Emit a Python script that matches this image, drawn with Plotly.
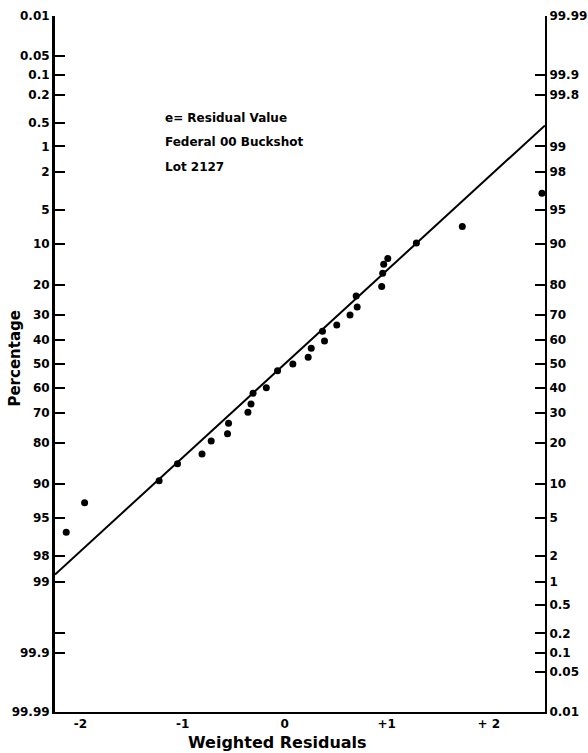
from statistics import NormalDist
import plotly.graph_objects as go

# Weighted residuals and their cumulative percentage (left-hand scale)
resid = [-2.14, -1.96, -1.23, -1.05, -0.81, -0.72, -0.56, -0.55, -0.36, -0.33,
         -0.31, -0.18, -0.07, 0.08, 0.23, 0.26, 0.39, 0.37, 0.51, 0.64,
         0.71, 0.70, 0.95, 0.96, 0.97, 1.01, 1.29, 1.74, 2.52]
pct = [96.4, 93.1, 89.4, 85.7, 83.2, 79.5, 77.2, 73.7, 69.7, 66.5,
       62.3, 60.0, 52.9, 50.0, 47.1, 43.3, 40.3, 36.3, 33.8, 30.0,
       27.1, 23.4, 20.4, 16.6, 14.3, 13.0, 9.8, 7.1, 3.4]

# Reference line: standard normal (percentage = 100 * Phi(-x))
line_resid = [-2.25, 2.55]

left_ticks = [0.01, 0.05, 0.1, 0.2, 0.5, 1, 2, 5, 10, 20, 30, 40, 50, 60, 70,
              80, 90, 95, 98, 99, 99.8, 99.9, 99.99]
left_text = ["0.01", "0.05", "0.1", "0.2", "0.5", "1", "2", "5", "10", "20", "30",
             "40", "50", "60", "70", "80", "90", "95", "98", "99", "", "99.9", "99.99"]
right_ticks = [99.99, 99.9, 99.8, 99, 98, 95, 90, 80, 70, 60, 50, 40, 30, 20, 10,
               5, 2, 1, 0.5, 0.2, 0.1, 0.05, 0.01]
right_text = ["99.99", "99.9", "99.8", "99", "98", "95", "90", "80", "70", "60", "50",
              "40", "30", "20", "10", "5", "2", "1", "0.5", "0.2", "0.1", "0.05", "0.01"]
x_ticks = [-2, -1, 0, 1, 2]
x_text = ["-2", "-1", "0", "+1", "+ 2"]

nd = NormalDist()


def up_left(p):
    # vertical position for a left-scale percentage (small values at the top)
    return -nd.inv_cdf(p / 100.0)


def up_right(p):
    # vertical position for a right-scale percentage (large values at the top)
    return nd.inv_cdf(p / 100.0)


zmax = up_left(0.01)
FONT = "DejaVu Sans"
TICKFONT = dict(family=FONT, size=12, weight="bold")
NOTEFONT = dict(family=FONT, size=12, weight="bold")

fig = go.Figure()
fig.add_trace(go.Scatter(
    x=line_resid, y=[r for r in line_resid], mode="lines",
    line=dict(color="black", width=2), yaxis="y2", hoverinfo="skip"))
fig.add_trace(go.Scatter(
    x=resid, y=[up_left(p) for p in pct], mode="markers",
    marker=dict(color="black", size=7), cliponaxis=False))

notes = ["e= Residual Value", "Federal 00 Buckshot", "Lot 2127"]
note_y = [0.853, 0.819, 0.783]
annotations = [
    dict(x=0.22, y=yy, xref="paper", yref="paper", xanchor="left",
         yanchor="middle", showarrow=False, text=t, font=NOTEFONT)
    for t, yy in zip(notes, note_y)
]
# axis titles
annotations.append(dict(
    x=-0.082, y=0.509, xref="paper", yref="paper", textangle=-90,
    xanchor="center", yanchor="middle", showarrow=False, text="Percentage",
    font=dict(family=FONT, size=15, weight="bold")))
annotations.append(dict(
    x=0.455, y=-0.044, xref="paper", yref="paper",
    xanchor="center", yanchor="middle", showarrow=False,
    text="Weighted Residuals",
    font=dict(family=FONT, size=16, weight="bold")))

fig.update_layout(
    width=588, height=753,
    margin=dict(l=55, r=43, t=16, b=41),
    paper_bgcolor="white", plot_bgcolor="white",
    showlegend=False,
    font=dict(family=FONT, color="black", size=12, weight="bold"),
    xaxis=dict(
        range=[-2.25, 2.55], showgrid=False, zeroline=False, automargin=False,
        showline=True, linecolor="black", linewidth=2, mirror=False,
        tickvals=x_ticks, ticktext=x_text, ticks="",
        tickfont=TICKFONT,
    ),
    yaxis=dict(
        range=[-zmax, zmax], showgrid=False, zeroline=False, automargin=False,
        showline=True, linecolor="black", linewidth=3,
        tickvals=[up_left(p) for p in left_ticks], ticktext=left_text,
        ticks="inside", ticklen=10, tickwidth=2, tickcolor="black",
        tickfont=TICKFONT,
    ),
    yaxis2=dict(
        range=[-zmax, zmax], overlaying="y", side="right", automargin=False,
        showgrid=False, zeroline=False,
        showline=True, linecolor="black", linewidth=2,
        tickvals=[up_right(p) for p in right_ticks], ticktext=right_text,
        ticks="inside", ticklen=10, tickwidth=2, tickcolor="black",
        tickfont=TICKFONT,
    ),
    annotations=annotations,
)

fig.write_html("out.html")
